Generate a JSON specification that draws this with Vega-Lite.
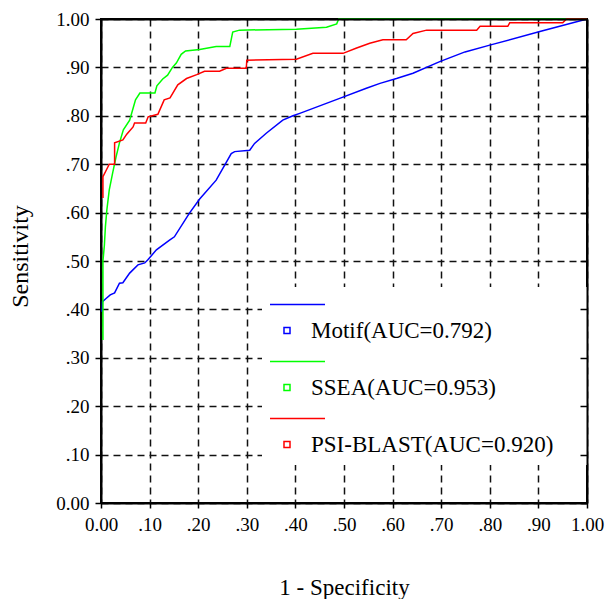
{
  "$schema": "https://vega.github.io/schema/vega-lite/v6.json",
  "width": 486,
  "height": 484,
  "autosize": {"type": "none"},
  "padding": {"left": 101, "top": 19, "right": 18, "bottom": 96},
  "background": "white",
  "config": {
    "view": {"stroke": "black", "strokeWidth": 2},
    "axis": {"titleFontWeight": "normal", "labelFont": "Liberation Serif", "titleFont": "Liberation Serif", "labelColor": "black", "titleColor": "black"}
  },
  "data": {"values": [
    {"s": "Motif(AUC=0.792)", "i": 0, "x": 0.002, "y": 0.395},
    {"s": "Motif(AUC=0.792)", "i": 1, "x": 0.003, "y": 0.416},
    {"s": "Motif(AUC=0.792)", "i": 2, "x": 0.011, "y": 0.423},
    {"s": "Motif(AUC=0.792)", "i": 3, "x": 0.019, "y": 0.43},
    {"s": "Motif(AUC=0.792)", "i": 4, "x": 0.028, "y": 0.434},
    {"s": "Motif(AUC=0.792)", "i": 5, "x": 0.038, "y": 0.454},
    {"s": "Motif(AUC=0.792)", "i": 6, "x": 0.045, "y": 0.455},
    {"s": "Motif(AUC=0.792)", "i": 7, "x": 0.059, "y": 0.475},
    {"s": "Motif(AUC=0.792)", "i": 8, "x": 0.076, "y": 0.492},
    {"s": "Motif(AUC=0.792)", "i": 9, "x": 0.09, "y": 0.496},
    {"s": "Motif(AUC=0.792)", "i": 10, "x": 0.096, "y": 0.502},
    {"s": "Motif(AUC=0.792)", "i": 11, "x": 0.114, "y": 0.523},
    {"s": "Motif(AUC=0.792)", "i": 12, "x": 0.141, "y": 0.543},
    {"s": "Motif(AUC=0.792)", "i": 13, "x": 0.151, "y": 0.55},
    {"s": "Motif(AUC=0.792)", "i": 14, "x": 0.182, "y": 0.599},
    {"s": "Motif(AUC=0.792)", "i": 15, "x": 0.203, "y": 0.628},
    {"s": "Motif(AUC=0.792)", "i": 16, "x": 0.237, "y": 0.667},
    {"s": "Motif(AUC=0.792)", "i": 17, "x": 0.268, "y": 0.722},
    {"s": "Motif(AUC=0.792)", "i": 18, "x": 0.275, "y": 0.726},
    {"s": "Motif(AUC=0.792)", "i": 19, "x": 0.306, "y": 0.729},
    {"s": "Motif(AUC=0.792)", "i": 20, "x": 0.316, "y": 0.743},
    {"s": "Motif(AUC=0.792)", "i": 21, "x": 0.34, "y": 0.764},
    {"s": "Motif(AUC=0.792)", "i": 22, "x": 0.374, "y": 0.791},
    {"s": "Motif(AUC=0.792)", "i": 23, "x": 0.395, "y": 0.8},
    {"s": "Motif(AUC=0.792)", "i": 24, "x": 0.409, "y": 0.805},
    {"s": "Motif(AUC=0.792)", "i": 25, "x": 0.491, "y": 0.836},
    {"s": "Motif(AUC=0.792)", "i": 26, "x": 0.546, "y": 0.857},
    {"s": "Motif(AUC=0.792)", "i": 27, "x": 0.574, "y": 0.867},
    {"s": "Motif(AUC=0.792)", "i": 28, "x": 0.608, "y": 0.877},
    {"s": "Motif(AUC=0.792)", "i": 29, "x": 0.642, "y": 0.888},
    {"s": "Motif(AUC=0.792)", "i": 30, "x": 0.697, "y": 0.912},
    {"s": "Motif(AUC=0.792)", "i": 31, "x": 0.749, "y": 0.932},
    {"s": "Motif(AUC=0.792)", "i": 32, "x": 0.8, "y": 0.946},
    {"s": "Motif(AUC=0.792)", "i": 33, "x": 0.903, "y": 0.974},
    {"s": "Motif(AUC=0.792)", "i": 34, "x": 1.0, "y": 1.0},
    {"s": "SSEA(AUC=0.953)", "i": 0, "x": 0.004, "y": 0.337},
    {"s": "SSEA(AUC=0.953)", "i": 1, "x": 0.004, "y": 0.5},
    {"s": "SSEA(AUC=0.953)", "i": 2, "x": 0.007, "y": 0.533},
    {"s": "SSEA(AUC=0.953)", "i": 3, "x": 0.009, "y": 0.57},
    {"s": "SSEA(AUC=0.953)", "i": 4, "x": 0.012, "y": 0.605},
    {"s": "SSEA(AUC=0.953)", "i": 5, "x": 0.017, "y": 0.647},
    {"s": "SSEA(AUC=0.953)", "i": 6, "x": 0.024, "y": 0.682},
    {"s": "SSEA(AUC=0.953)", "i": 7, "x": 0.031, "y": 0.715},
    {"s": "SSEA(AUC=0.953)", "i": 8, "x": 0.038, "y": 0.744},
    {"s": "SSEA(AUC=0.953)", "i": 9, "x": 0.046, "y": 0.771},
    {"s": "SSEA(AUC=0.953)", "i": 10, "x": 0.059, "y": 0.791},
    {"s": "SSEA(AUC=0.953)", "i": 11, "x": 0.065, "y": 0.812},
    {"s": "SSEA(AUC=0.953)", "i": 12, "x": 0.071, "y": 0.833},
    {"s": "SSEA(AUC=0.953)", "i": 13, "x": 0.08, "y": 0.847},
    {"s": "SSEA(AUC=0.953)", "i": 14, "x": 0.111, "y": 0.847},
    {"s": "SSEA(AUC=0.953)", "i": 15, "x": 0.115, "y": 0.862},
    {"s": "SSEA(AUC=0.953)", "i": 16, "x": 0.127, "y": 0.876},
    {"s": "SSEA(AUC=0.953)", "i": 17, "x": 0.137, "y": 0.884},
    {"s": "SSEA(AUC=0.953)", "i": 18, "x": 0.147, "y": 0.9},
    {"s": "SSEA(AUC=0.953)", "i": 19, "x": 0.155, "y": 0.909},
    {"s": "SSEA(AUC=0.953)", "i": 20, "x": 0.165, "y": 0.927},
    {"s": "SSEA(AUC=0.953)", "i": 21, "x": 0.174, "y": 0.934},
    {"s": "SSEA(AUC=0.953)", "i": 22, "x": 0.203, "y": 0.937},
    {"s": "SSEA(AUC=0.953)", "i": 23, "x": 0.237, "y": 0.943},
    {"s": "SSEA(AUC=0.953)", "i": 24, "x": 0.265, "y": 0.943},
    {"s": "SSEA(AUC=0.953)", "i": 25, "x": 0.271, "y": 0.973},
    {"s": "SSEA(AUC=0.953)", "i": 26, "x": 0.285, "y": 0.977},
    {"s": "SSEA(AUC=0.953)", "i": 27, "x": 0.402, "y": 0.979},
    {"s": "SSEA(AUC=0.953)", "i": 28, "x": 0.464, "y": 0.983},
    {"s": "SSEA(AUC=0.953)", "i": 29, "x": 0.485, "y": 0.99},
    {"s": "SSEA(AUC=0.953)", "i": 30, "x": 0.489, "y": 1.0},
    {"s": "SSEA(AUC=0.953)", "i": 31, "x": 1.0, "y": 1.0},
    {"s": "PSI-BLAST(AUC=0.920)", "i": 0, "x": 0.004, "y": 0.63},
    {"s": "PSI-BLAST(AUC=0.920)", "i": 1, "x": 0.004, "y": 0.674},
    {"s": "PSI-BLAST(AUC=0.920)", "i": 2, "x": 0.011, "y": 0.688},
    {"s": "PSI-BLAST(AUC=0.920)", "i": 3, "x": 0.017, "y": 0.7},
    {"s": "PSI-BLAST(AUC=0.920)", "i": 4, "x": 0.028, "y": 0.7},
    {"s": "PSI-BLAST(AUC=0.920)", "i": 5, "x": 0.028, "y": 0.744},
    {"s": "PSI-BLAST(AUC=0.920)", "i": 6, "x": 0.045, "y": 0.75},
    {"s": "PSI-BLAST(AUC=0.920)", "i": 7, "x": 0.053, "y": 0.762},
    {"s": "PSI-BLAST(AUC=0.920)", "i": 8, "x": 0.066, "y": 0.777},
    {"s": "PSI-BLAST(AUC=0.920)", "i": 9, "x": 0.069, "y": 0.785},
    {"s": "PSI-BLAST(AUC=0.920)", "i": 10, "x": 0.092, "y": 0.785},
    {"s": "PSI-BLAST(AUC=0.920)", "i": 11, "x": 0.097, "y": 0.798},
    {"s": "PSI-BLAST(AUC=0.920)", "i": 12, "x": 0.117, "y": 0.803},
    {"s": "PSI-BLAST(AUC=0.920)", "i": 13, "x": 0.13, "y": 0.833},
    {"s": "PSI-BLAST(AUC=0.920)", "i": 14, "x": 0.142, "y": 0.837},
    {"s": "PSI-BLAST(AUC=0.920)", "i": 15, "x": 0.158, "y": 0.864},
    {"s": "PSI-BLAST(AUC=0.920)", "i": 16, "x": 0.176, "y": 0.877},
    {"s": "PSI-BLAST(AUC=0.920)", "i": 17, "x": 0.197, "y": 0.885},
    {"s": "PSI-BLAST(AUC=0.920)", "i": 18, "x": 0.213, "y": 0.892},
    {"s": "PSI-BLAST(AUC=0.920)", "i": 19, "x": 0.244, "y": 0.892},
    {"s": "PSI-BLAST(AUC=0.920)", "i": 20, "x": 0.258, "y": 0.898},
    {"s": "PSI-BLAST(AUC=0.920)", "i": 21, "x": 0.299, "y": 0.898},
    {"s": "PSI-BLAST(AUC=0.920)", "i": 22, "x": 0.3, "y": 0.915},
    {"s": "PSI-BLAST(AUC=0.920)", "i": 23, "x": 0.402, "y": 0.917},
    {"s": "PSI-BLAST(AUC=0.920)", "i": 24, "x": 0.436, "y": 0.929},
    {"s": "PSI-BLAST(AUC=0.920)", "i": 25, "x": 0.498, "y": 0.929},
    {"s": "PSI-BLAST(AUC=0.920)", "i": 26, "x": 0.526, "y": 0.94},
    {"s": "PSI-BLAST(AUC=0.920)", "i": 27, "x": 0.553, "y": 0.95},
    {"s": "PSI-BLAST(AUC=0.920)", "i": 28, "x": 0.58, "y": 0.957},
    {"s": "PSI-BLAST(AUC=0.920)", "i": 29, "x": 0.628, "y": 0.957},
    {"s": "PSI-BLAST(AUC=0.920)", "i": 30, "x": 0.642, "y": 0.97},
    {"s": "PSI-BLAST(AUC=0.920)", "i": 31, "x": 0.67, "y": 0.977},
    {"s": "PSI-BLAST(AUC=0.920)", "i": 32, "x": 0.773, "y": 0.977},
    {"s": "PSI-BLAST(AUC=0.920)", "i": 33, "x": 0.78, "y": 0.985},
    {"s": "PSI-BLAST(AUC=0.920)", "i": 34, "x": 0.837, "y": 0.985},
    {"s": "PSI-BLAST(AUC=0.920)", "i": 35, "x": 0.841, "y": 0.992},
    {"s": "PSI-BLAST(AUC=0.920)", "i": 36, "x": 0.95, "y": 0.992},
    {"s": "PSI-BLAST(AUC=0.920)", "i": 37, "x": 0.958, "y": 1.0},
    {"s": "PSI-BLAST(AUC=0.920)", "i": 38, "x": 1.0, "y": 1.0}
  ]},
  "resolve": {"axis": {"x": "independent", "y": "independent"}},
  "layer": [
    {
      "mark": {"type": "line", "strokeWidth": 1.5, "interpolate": "linear"},
      "encoding": {
        "x": {"field": "x", "type": "quantitative", "scale": {"domain": [0, 1], "nice": false},
          "axis": {"orient": "bottom", "values": [0, 0.1, 0.2, 0.3, 0.4, 0.5, 0.6, 0.7, 0.8, 0.9, 1],
            "labelExpr": "datum.value == 0 ? '0.00' : datum.value == 1 ? '1.00' : slice(format(datum.value, '.2f'), 1)",
            "labelFontSize": 19, "labelPadding": 7, "labelFlush": false, "labelOverlap": false,
            "tickSize": 5, "tickWidth": 1.5, "tickColor": "black",
            "domainColor": "black", "domainWidth": 2,
            "grid": true, "gridColor": "#111", "gridWidth": 1.5, "gridDash": [7, 5], "gridOpacity": 1,
            "title": "1 - Specificity", "titleFontSize": 23, "titleY": 91, "titleBaseline": "alphabetic", "zindex": 0}},
        "y": {"field": "y", "type": "quantitative", "scale": {"domain": [0, 1], "nice": false},
          "axis": {"orient": "left", "values": [0, 0.1, 0.2, 0.3, 0.4, 0.5, 0.6, 0.7, 0.8, 0.9, 1],
            "labelExpr": "datum.value == 0 ? '0.00' : datum.value == 1 ? '1.00' : slice(format(datum.value, '.2f'), 1)",
            "labelFontSize": 19, "labelPadding": 6, "labelFlush": false, "labelOverlap": false,
            "tickSize": 6, "tickWidth": 1.5, "tickColor": "black",
            "domainColor": "black", "domainWidth": 2,
            "grid": true, "gridColor": "#111", "gridWidth": 1.5, "gridDash": [7, 5], "gridOpacity": 1,
            "title": "Sensitivity", "titleFontSize": 24, "titleAngle": -90, "titleX": -74, "titleY": 237, "titleAlign": "center", "titleBaseline": "alphabetic", "zindex": 0}},
        "stroke": {"field": "s", "type": "nominal",
          "scale": {"domain": ["Motif(AUC=0.792)", "SSEA(AUC=0.953)", "PSI-BLAST(AUC=0.920)"], "range": ["#0000ff", "#00ff00", "#ff0000"]},
          "legend": {"orient": "none", "legendX": 161, "legendY": 268, "title": null,
            "symbolType": "M-1.031,-0.635H1.237M-0.454,0.313H-0.206V0.561H-0.454ZM11.6,0", "symbolSize": 2352, "symbolStrokeWidth": 1.5, "symbolFillColor": "white",
            "labelFont": "Liberation Serif", "labelFontSize": 23, "labelColor": "black", "labelOffset": -9, "labelLimit": 400, "labelBaseline": "top",
            "fillColor": "white", "padding": 8, "rowPadding": 9, "zindex": 1}},
        "order": {"field": "i", "type": "quantitative"}
      }
    },
    {
      "mark": {"type": "point", "opacity": 0},
      "encoding": {
        "x": {"field": "x", "type": "quantitative", "scale": {"domain": [0, 1], "nice": false},
          "axis": {"orient": "top", "labels": false, "ticks": false, "grid": false, "title": null, "domainColor": "black", "domainWidth": 2, "zindex": 2}},
        "y": {"field": "y", "type": "quantitative", "scale": {"domain": [0, 1], "nice": false},
          "axis": {"orient": "right", "values": [0, 0.1, 0.2, 0.3, 0.4, 0.5, 0.6, 0.7, 0.8, 0.9, 1], "labels": false, "grid": false, "title": null,
            "tickSize": -7, "tickWidth": 1.5, "tickColor": "black", "domainColor": "black", "domainWidth": 2, "zindex": 2}}
      }
    }
  ]
}
